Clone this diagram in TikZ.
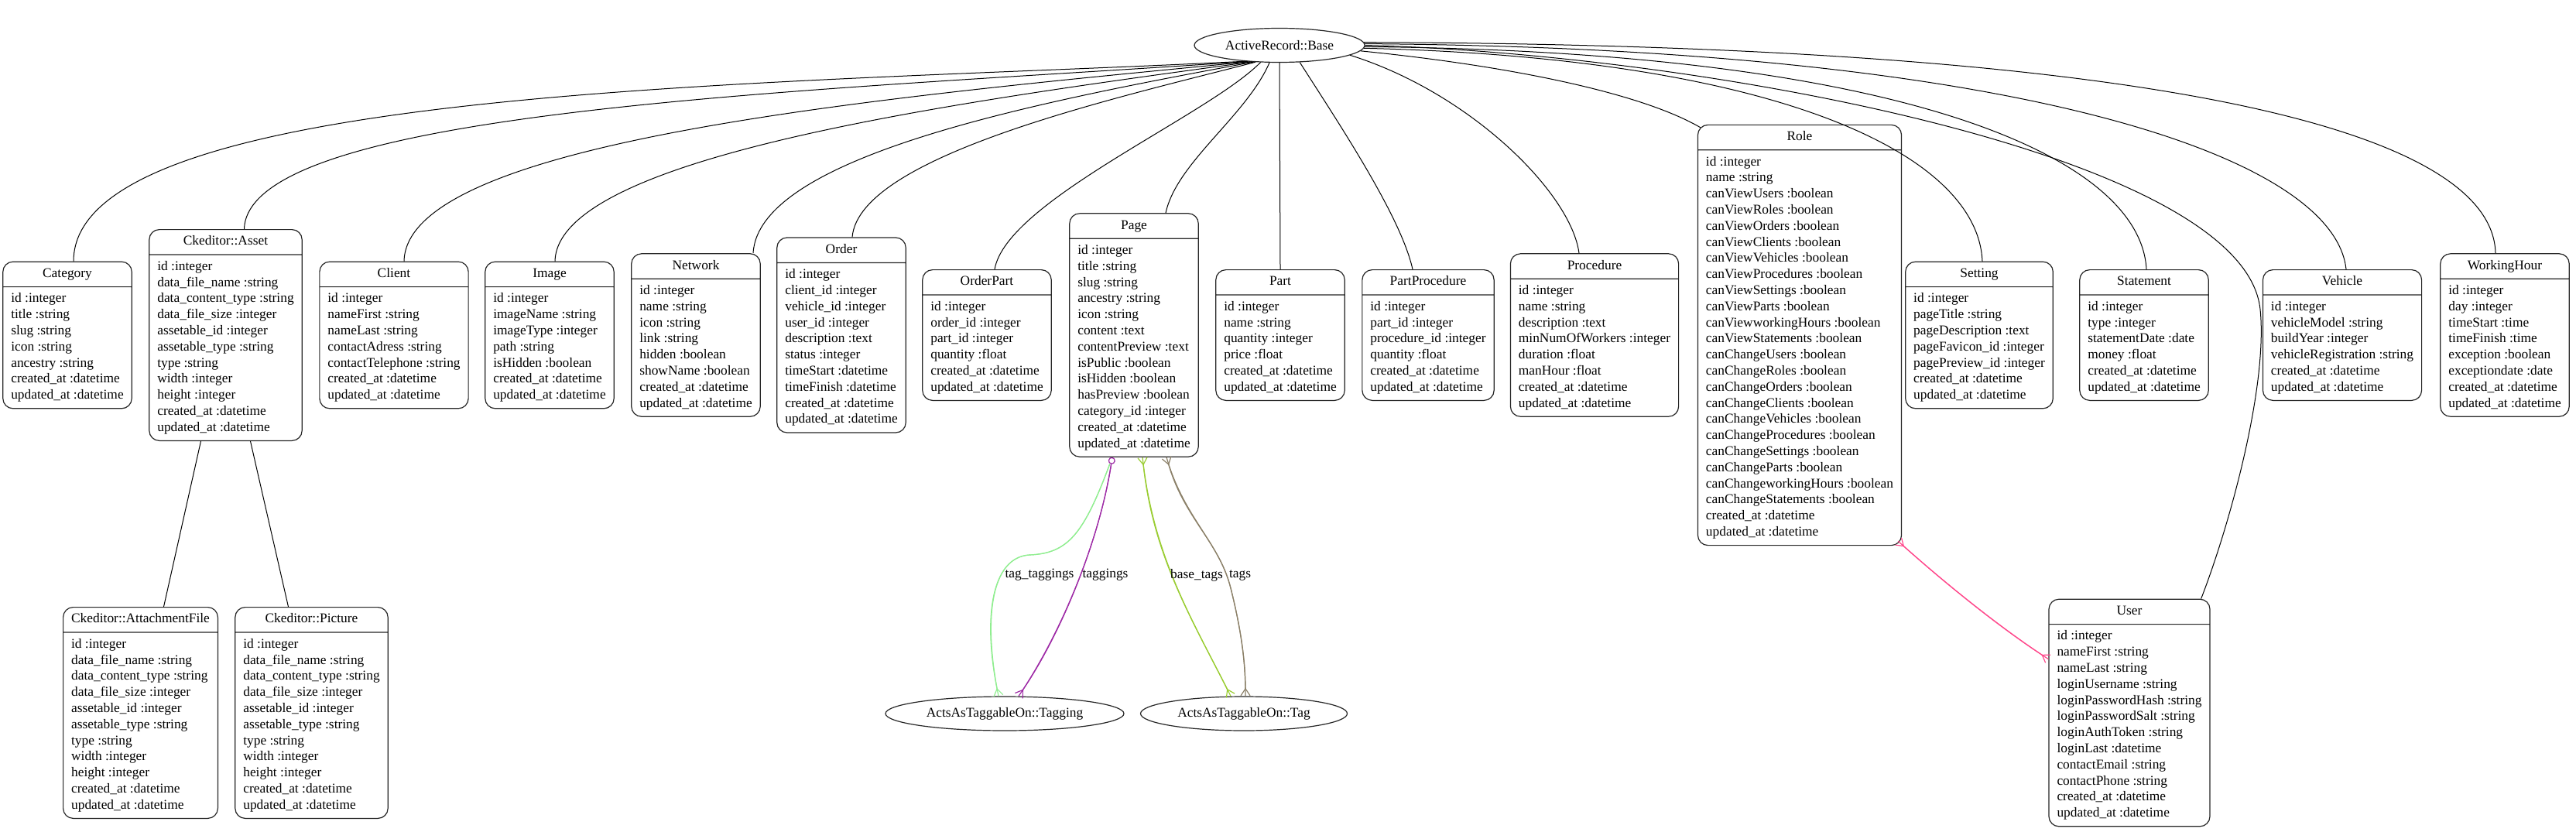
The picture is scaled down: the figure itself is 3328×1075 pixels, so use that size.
\documentclass[tikz,border=0pt]{standalone}
\usepackage{fontspec}
\setmainfont{Liberation Serif}
\usepackage{tikz}
\usetikzlibrary{shapes.multipart,shapes.geometric,arrows.meta,calc}

\definecolor{tagtaggings}{HTML}{90EE90}
\definecolor{taggings}{HTML}{9E2AA6}
\definecolor{basetags}{HTML}{9ACD32}
\definecolor{tagsbrown}{HTML}{8B8068}
\definecolor{roleuser}{HTML}{FF4A8D}

\newcommand{\attrs}[1]{\begin{tabular}{@{}l@{}}#1\end{tabular}}

\begin{document}
\begin{tikzpicture}[x=0.5pt, y=-0.5pt, every node/.style={font=\fontsize{8.7}{10.4}\selectfont},
entity/.style={rectangle split, rectangle split parts=2, rectangle split part align={center,left}, draw=black!85, line width=0.6pt, rounded corners=6.5pt, inner xsep=5.25pt, inner ysep=2.6pt},
oval/.style={ellipse, draw=black!85, line width=0.6pt, inner sep=0pt, minimum height=22pt},
link/.style={line width=0.5pt},
assoc/.style={line width=0.6pt, postaction={draw, -}},
crow/.tip={Straight Barb[reversed,length=4.5pt,width=6pt]},
ring/.tip={Circle[open,length=4.5pt]}]

\path[use as bounding box, fill=white] (0,0) rectangle (3328,1075);

\node[oval, minimum width=110pt] (base) at (1653,58.5) {ActiveRecord::Base};

\node[entity] (category) at (87,433) {\strut Category\nodepart{two}\attrs{id :integer\\title :string\\slug :string\\icon :string\\ancestry :string\\created\_at :datetime\\updated\_at :datetime}};
\node[entity] (asset) at (291.5,433) {\strut Ckeditor::Asset\nodepart{two}\attrs{id :integer\\data\_file\_name :string\\data\_content\_type :string\\data\_file\_size :integer\\assetable\_id :integer\\assetable\_type :string\\type :string\\width :integer\\height :integer\\created\_at :datetime\\updated\_at :datetime}};
\node[entity] (client) at (509,433) {\strut Client\nodepart{two}\attrs{id :integer\\nameFirst :string\\nameLast :string\\contactAdress :string\\contactTelephone :string\\created\_at :datetime\\updated\_at :datetime}};
\node[entity] (image) at (710,433) {\strut Image\nodepart{two}\attrs{id :integer\\imageName :string\\imageType :integer\\path :string\\isHidden :boolean\\created\_at :datetime\\updated\_at :datetime}};
\node[entity] (network) at (899,433) {\strut Network\nodepart{two}\attrs{id :integer\\name :string\\icon :string\\link :string\\hidden :boolean\\showName :boolean\\created\_at :datetime\\updated\_at :datetime}};
\node[entity] (order) at (1087,433) {\strut Order\nodepart{two}\attrs{id :integer\\client\_id :integer\\vehicle\_id :integer\\user\_id :integer\\description :text\\status :integer\\timeStart :datetime\\timeFinish :datetime\\created\_at :datetime\\updated\_at :datetime}};
\node[entity] (orderpart) at (1275,433) {\strut OrderPart\nodepart{two}\attrs{id :integer\\order\_id :integer\\part\_id :integer\\quantity :float\\created\_at :datetime\\updated\_at :datetime}};
\node[entity] (page) at (1465,433) {\strut Page\nodepart{two}\attrs{id :integer\\title :string\\slug :string\\ancestry :string\\icon :string\\content :text\\contentPreview :text\\isPublic :boolean\\isHidden :boolean\\hasPreview :boolean\\category\_id :integer\\created\_at :datetime\\updated\_at :datetime}};
\node[entity] (part) at (1654,433) {\strut Part\nodepart{two}\attrs{id :integer\\name :string\\quantity :integer\\price :float\\created\_at :datetime\\updated\_at :datetime}};
\node[entity] (partproc) at (1845,433) {\strut PartProcedure\nodepart{two}\attrs{id :integer\\part\_id :integer\\procedure\_id :integer\\quantity :float\\created\_at :datetime\\updated\_at :datetime}};
\node[entity] (procedure) at (2060,433) {\strut Procedure\nodepart{two}\attrs{id :integer\\name :string\\description :text\\minNumOfWorkers :integer\\duration :float\\manHour :float\\created\_at :datetime\\updated\_at :datetime}};
\node[entity] (role) at (2325,433) {\strut Role\nodepart{two}\attrs{id :integer\\name :string\\canViewUsers :boolean\\canViewRoles :boolean\\canViewOrders :boolean\\canViewClients :boolean\\canViewVehicles :boolean\\canViewProcedures :boolean\\canViewSettings :boolean\\canViewParts :boolean\\canViewworkingHours :boolean\\canViewStatements :boolean\\canChangeUsers :boolean\\canChangeRoles :boolean\\canChangeOrders :boolean\\canChangeClients :boolean\\canChangeVehicles :boolean\\canChangeProcedures :boolean\\canChangeSettings :boolean\\canChangeParts :boolean\\canChangeworkingHours :boolean\\canChangeStatements :boolean\\created\_at :datetime\\updated\_at :datetime}};
\node[entity] (setting) at (2557,433) {\strut Setting\nodepart{two}\attrs{id :integer\\pageTitle :string\\pageDescription :text\\pageFavicon\_id :integer\\pagePreview\_id :integer\\created\_at :datetime\\updated\_at :datetime}};
\node[entity] (statement) at (2770,433) {\strut Statement\nodepart{two}\attrs{id :integer\\type :integer\\statementDate :date\\money :float\\created\_at :datetime\\updated\_at :datetime}};
\node[entity] (vehicle) at (3026,433) {\strut Vehicle\nodepart{two}\attrs{id :integer\\vehicleModel :string\\buildYear :integer\\vehicleRegistration :string\\created\_at :datetime\\updated\_at :datetime}};
\node[entity] (workinghour) at (3236,433) {\strut WorkingHour\nodepart{two}\attrs{id :integer\\day :integer\\timeStart :time\\timeFinish :time\\exception :boolean\\exceptiondate :date\\created\_at :datetime\\updated\_at :datetime}};

\node[entity] (attachment) at (181.5,921) {\strut Ckeditor::AttachmentFile\nodepart{two}\attrs{id :integer\\data\_file\_name :string\\data\_content\_type :string\\data\_file\_size :integer\\assetable\_id :integer\\assetable\_type :string\\type :string\\width :integer\\height :integer\\created\_at :datetime\\updated\_at :datetime}};
\node[entity] (picture) at (402.5,921) {\strut Ckeditor::Picture\nodepart{two}\attrs{id :integer\\data\_file\_name :string\\data\_content\_type :string\\data\_file\_size :integer\\assetable\_id :integer\\assetable\_type :string\\type :string\\width :integer\\height :integer\\created\_at :datetime\\updated\_at :datetime}};
\node[oval, minimum width=154pt] (tagging) at (1298,922) {ActsAsTaggableOn::Tagging};
\node[oval, minimum width=133.5pt] (tag) at (1607,922) {ActsAsTaggableOn::Tag};
\node[entity] (user) at (2751,921) {\strut User\nodepart{two}\attrs{id :integer\\nameFirst :string\\nameLast :string\\loginUsername :string\\loginPasswordHash :string\\loginPasswordSalt :string\\loginAuthToken :string\\loginLast :datetime\\contactEmail :string\\contactPhone :string\\created\_at :datetime\\updated\_at :datetime}};

\coordinate (userbend) at (2920,400);
\coordinate (ttbend) at (1330,717);
\coordinate (tagsbend) at (1590,760);

\draw[link] (base.205) .. controls (1000,110) and (95,110) .. ([xshift=4pt]category.north);
\draw[link] (base.207) .. controls (1050,118) and (320,140) .. ([xshift=12pt]asset.north);
\draw[link] (base.209) .. controls (1150,125) and (525,180) .. ([xshift=6.5pt]client.north);
\draw[link] (base.211) .. controls (1250,130) and (720,200) .. ([xshift=3.5pt]image.north);
\draw[link] (base.213) .. controls (1350,130) and (980,200) .. ([xshift=37pt]network.north);
\draw[link] (base.215) .. controls (1450,125) and (1110,200) .. ([xshift=7pt]order.north);
\draw[link] (base.222) .. controls (1560,150) and (1300,260) .. ([xshift=5pt]orderpart.north);
\draw[link] (base.240) .. controls (1610,150) and (1520,210) .. ([xshift=20.5pt]page.north);
\draw[link] (base.south) -- (part.north);
\draw[link] (base.320) .. controls (1730,160) and (1810,280) .. ([xshift=-10pt]partproc.north);
\draw[link] (base.352) .. controls (1900,120) and (2030,250) .. ([xshift=-10pt]procedure.north);
\draw[link] (base.356) .. controls (1950,85) and (2120,120) .. ([shift={(2pt,-2pt)}]role.north west);
\draw[link] (base.358) .. controls (2300,75) and (2555,200) .. ([xshift=2pt]setting.north);
\draw[link] (base.359) .. controls (2450,66) and (2765,200) .. ([xshift=1.5pt]statement.north);
\draw[link] (base.0) .. controls (2200,70) and (2900,200) .. (userbend) .. controls (2930,500) and (2880,680) .. ([xshift=-6pt]user.north east);
\draw[link] (base.1) .. controls (2600,62) and (3015,200) .. ([xshift=2.5pt]vehicle.north);
\draw[link] (base.2) .. controls (2800,58) and (3220,170) .. ([xshift=-6pt]workinghour.north);

\draw[link] ([xshift=-16pt]asset.south) -- ([xshift=15pt]attachment.north);
\draw[link] ([xshift=16pt]asset.south) -- ([xshift=-15pt]picture.north);

\draw[tagtaggings, assoc, shorten <=4.5pt, -crow] ([xshift=-14pt]page.south) .. controls (1400,690) and (1380,715) .. (ttbend) .. controls (1280,720) and (1270,800) .. ([xshift=-4pt]tagging.north);
\draw[taggings, line width=0.6pt, postaction={draw, -, shorten <=4.5pt}, ring-crow] ([xshift=-14pt]page.south) .. controls (1420,700) and (1370,820) .. ([xshift=9pt]tagging.north);
\draw[basetags, assoc, crow-crow] ([xshift=5.5pt]page.south) .. controls (1490,720) and (1540,800) .. ([xshift=-8.5pt]tag.north);
\draw[tagsbrown, assoc, crow-crow] ([xshift=21pt]page.south) .. controls (1530,670) and (1575,700) .. (tagsbend) .. controls (1605,820) and (1609,860) .. ([xshift=1pt]tag.north);
\draw[roleuser, assoc, crow-crow] ([shift={(-2.5pt,3pt)}]role.south east) .. controls (2520,760) and (2590,815) .. ([yshift=-39pt]user.north west);

\node (lbltagtaggings) at (1343,743) {tag\_taggings};
\node (lbltaggings) at (1428,743) {taggings};
\node (lblbasetags) at (1546,743) {base\_tags};
\node (lbltags) at (1602,743) {tags};

\end{tikzpicture}
\end{document}
